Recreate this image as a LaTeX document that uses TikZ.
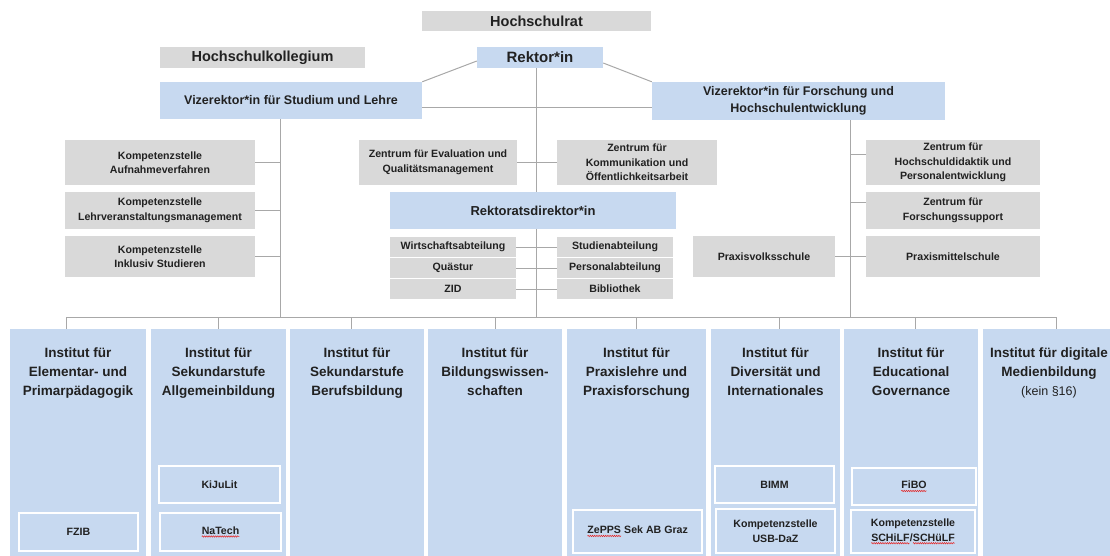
\documentclass[tikz,border=0pt]{standalone}
\usepackage{fontspec}
\setmainfont{Liberation Sans}
\definecolor{d00}{rgb}{0.13, 0.13, 0.13}
\definecolor{d01}{rgb}{0.85, 0.85, 0.85}
\definecolor{d02}{rgb}{0.78, 0.85, 0.94}
\definecolor{d03}{rgb}{0.66, 0.66, 0.66}
\definecolor{d04}{rgb}{1.00, 1.00, 1.00}
\definecolor{d05}{rgb}{0.90, 0.12, 0.12}
\usetikzlibrary{positioning}
\usetikzlibrary{decorations.pathmorphing}
\tikzstyle{Link} = [draw, d03, line width=1pt]
\tikzstyle{unit} = [rectangle, fill=d01, inner sep=0pt, text=d00,
    align=center, font=\bfseries\fontsize{10.6}{14.5}\selectfont]
\tikzstyle{lead} = [rectangle, fill=d02, inner sep=0pt, text=d00,
    align=center, font=\bfseries\fontsize{12.5}{17}\selectfont]
\tikzstyle{inst} = [rectangle, fill=d02, inner sep=0pt, text=d00,
    font=\bfseries\fontsize{13.5}{19}\selectfont]
\tikzstyle{sub} = [rectangle, fill=d02, draw=d04, line width=1.2pt,
    inner sep=0pt, text=d00, align=center,
    font=\bfseries\fontsize{10.6}{14.5}\selectfont]
\tikzset{dims/.style 2 args={minimum width=#1pt, minimum height=#2pt}}
\newcommand{\pillar}[2]{
    \begin{minipage}[c][227pt][t]{#1pt} \centering \vspace*{19pt} #2
    \end{minipage}}
\newcommand{\typo}[1]{\tikz[baseline=(w.base)]{
    \node [inner sep=0pt, outer sep=0pt, minimum width=0pt,
       minimum height=0pt, draw=none, fill=none, text=d00] (w) {#1};
    \draw [d05, line width=0.5pt, decorate,
       decoration={snake, amplitude=0.7pt, segment length=2.2pt}]
       ([yshift=-2.2pt]w.base west) -- ([yshift=-2.2pt]w.base east);}}

\begin{document}
\begin{tikzpicture}[x=1pt, y=-1pt]
     \useasboundingbox (0,0) rectangle (1110,555);
     \clip (0,0) rectangle (1110,555);
     % ><>< =================== ><>< %
     % ><><     Place nodes     ><>< %
     % ><>< =================== ><>< %
     \node [unit, dims={229}{20}, font=\bfseries\fontsize{14.5}{17}\selectfont]
        (org00) at (536.5,21) {Hochschulrat};
     \node [unit, dims={205}{21}, font=\bfseries\fontsize{14.5}{17}\selectfont]
        (org01) at (262.5,57.5) {Hochschulkollegium};
     \node [lead, dims={126}{21}, font=\bfseries\fontsize{15}{17}\selectfont]
        (org02) at (540,57.5) {Rektor*in};
     \node [lead, dims={262}{37}] (org03) at (291,100.5)
        {Vizerektor*in für Studium und Lehre};
     \node [lead, dims={293}{38}] (org04) at (798.5,101)
        {Vizerektor*in für Forschung und\\Hochschulentwicklung};
     % left column
     \node [unit, dims={190}{45}] (org05) at (160,162.5)
        {Kompetenzstelle\\Aufnahmeverfahren};
     \node [unit, dims={190}{37}] (org06) at (160,210.5)
        {Kompetenzstelle\\Lehrveranstaltungsmanagement};
     \node [unit, dims={190}{41}] (org07) at (160,256.5)
        {Kompetenzstelle\\Inklusiv Studieren};
     % middle column
     \node [unit, dims={158}{45}] (org08) at (438,162.5)
        {Zentrum für Evaluation und\\Qualitätsmanagement};
     \node [unit, dims={160}{45}] (org09) at (637,162.5)
        {Zentrum für\\Kommunikation und\\Öffentlichkeitsarbeit};
     \node [lead, dims={286}{37}, font=\bfseries\fontsize{13}{17}\selectfont]
        (org10) at (533,210.5) {Rektoratsdirektor*in};
     \node [unit, dims={126}{20}] (org11) at (453,247) {Wirtschaftsabteilung};
     \node [unit, dims={126}{20}] (org12) at (453,268) {Quästur};
     \node [unit, dims={126}{20}] (org13) at (453,289) {ZID};
     \node [unit, dims={116}{20}] (org14) at (615,247) {Studienabteilung};
     \node [unit, dims={116}{20}] (org15) at (615,268) {Personalabteilung};
     \node [unit, dims={116}{20}] (org16) at (615,289) {Bibliothek};
     % right column
     \node [unit, dims={142}{41}] (org17) at (764,256.5) {Praxisvolksschule};
     \node [unit, dims={174}{45}] (org18) at (953,162.5)
        {Zentrum für\\Hochschuldidaktik und\\Personalentwicklung};
     \node [unit, dims={174}{37}] (org19) at (953,210.5)
        {Zentrum für\\Forschungssupport};
     \node [unit, dims={174}{41}] (org20) at (953,256.5) {Praxismittelschule};
     % institutes
     \node [inst] (inst01) at (78,442.5) {\pillar{136}{Institut für\\
        Elementar- und\\Primarpädagogik}};
     \node [inst] (inst02) at (218.5,442.5) {\pillar{135}{Institut für\\
        Sekundarstufe\\Allgemeinbildung}};
     \node [inst] (inst03) at (357,442.5) {\pillar{134}{Institut für\\
        Sekundarstufe\\Berufsbildung}};
     \node [inst] (inst04) at (495,442.5) {\pillar{134}{Institut für\\
        Bildungswissen-\\schaften}};
     \node [inst] (inst05) at (636.5,442.5) {\pillar{139}{Institut für\\
        Praxislehre und\\Praxisforschung}};
     \node [inst] (inst06) at (775.5,442.5) {\pillar{129}{Institut für\\
        Diversität und\\Internationales}};
     \node [inst] (inst07) at (911,442.5) {\pillar{134}{Institut für\\
        Educational\\Governance}};
     \node [inst] (inst08) at (1049,442.5) {\pillar{132}{Institut für digitale\\
        Medienbildung\\{\mdseries\fontsize{12.5}{19}\selectfont (kein §16)}}};
     % inside the institutes
     \node [sub, dims={119}{38}] (sub01) at (78.5,532) {FZIB};
     \node [sub, dims={121}{37}] (sub02) at (219.5,484.5) {KiJuLit};
     \node [sub, dims={121}{38}] (sub03) at (220.5,532) {\typo{NaTech}};
     \node [sub, dims={129}{43}] (sub04) at (637.5,531.5)
        {\typo{ZePPS} Sek AB Graz};
     \node [sub, dims={119}{37}] (sub05) at (774.5,484.5) {BIMM};
     \node [sub, dims={119}{44}] (sub06) at (775.5,531)
        {Kompetenzstelle\\USB-DaZ};
     \node [sub, dims={124}{37}] (sub07) at (914,486.5) {\typo{FiBO}};
     \node [sub, dims={124}{43}] (sub08) at (913,531.5)
        {Kompetenzstelle\\\typo{SCHiLF}/\typo{SCHüLF}};
     \coordinate (axis) at (536,317);
     \coordinate (spineL) at (280,317);
     \coordinate (spineR) at (850,317);
     \coordinate (busL) at (66,317);
     \coordinate (busR) at (1056,317);
     % ><>< =================== ><>< %
     % ><><     Draw lines.     ><>< %
     % ><>< =================== ><>< %
     \path [Link] ([yshift=-3.5pt]org02.west) -- (org03.north east);
     \path [Link] ([yshift=-5.5pt]org02.east) -- (org04.north west);
     \path [Link] ([yshift=-6.5pt]org03.east) -- ([yshift=-6pt]org04.west);
     \path [Link] (org02.south -| axis) -- (org10.north -| axis);
     \path [Link] (org10.south -| axis) -- (axis);
     \path [Link] (org03.south -| spineL) -- (spineL);
     \path [Link] (org04.south -| spineR) -- (spineR);
     \path [Link] (org05.east) -- (org05.east -| spineL);
     \path [Link] (org06.east) -- (org06.east -| spineL);
     \path [Link] (org07.east) -- (org07.east -| spineL);
     \path [Link] (org08.east) -- (org09.west);
     \path [Link] (org11.east) -- (org14.west);
     \path [Link] (org12.east) -- (org15.west);
     \path [Link] (org13.east) -- (org16.west);
     \path [Link] ([yshift=8pt]org18.west) -- ([yshift=8pt]org18.west -| spineR);
     \path [Link] ([yshift=8.5pt]org19.west) -- ([yshift=8.5pt]org19.west -| spineR);
     \path [Link] (org17.east) -- (org20.west);
     \path [Link] (busL) -- (busR);
     \path [Link] ([xshift=-12pt]inst01.north) -- ([xshift=-12pt]inst01.north |- busL);
     \path [Link] (inst02.north) -- (inst02.north |- busL);
     \path [Link] ([xshift=-6pt]inst03.north) -- ([xshift=-6pt]inst03.north |- busL);
     \path [Link] (inst04.north) -- (inst04.north |- busL);
     \path [Link] (inst05.north) -- (inst05.north |- busL);
     \path [Link] ([xshift=3.5pt]inst06.north) -- ([xshift=3.5pt]inst06.north |- busL);
     \path [Link] ([xshift=4pt]inst07.north) -- ([xshift=4pt]inst07.north |- busL);
     \path [Link] ([xshift=7pt]inst08.north) -- ([xshift=7pt]inst08.north |- busL);
  \end{tikzpicture}
\end{document}
